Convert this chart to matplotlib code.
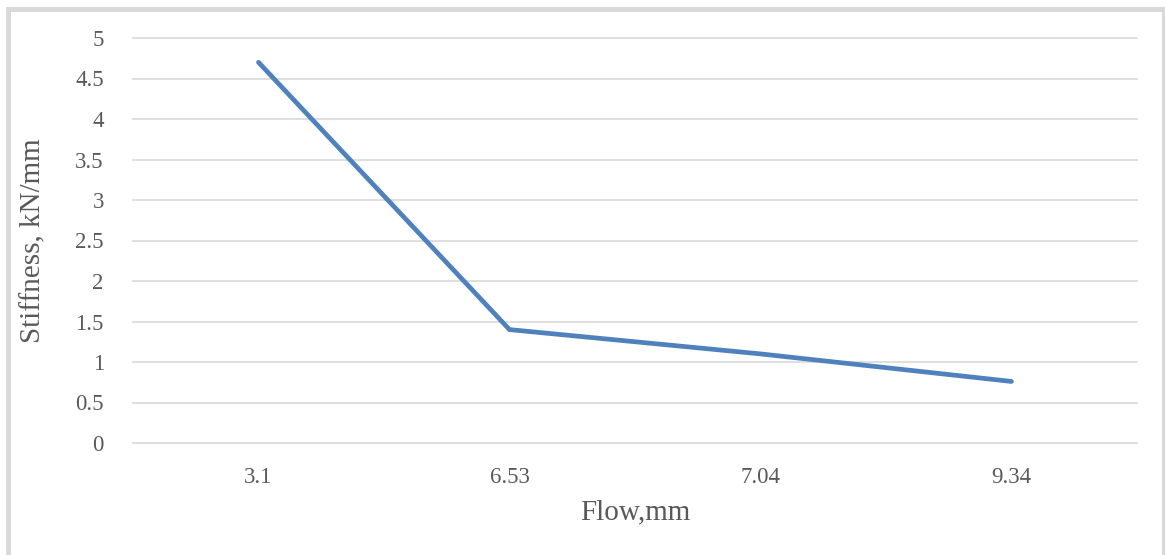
import matplotlib
matplotlib.use("Agg")
import matplotlib.pyplot as plt
from matplotlib.patches import Rectangle

flow_labels = ["3.1", "6.53", "7.04", "9.34"]
stiffness = [4.70, 1.40, 1.10, 0.76]
y_ticks = [0, 0.5, 1, 1.5, 2, 2.5, 3, 3.5, 4, 4.5, 5]
y_tick_labels = ["0", "0.5", "1", "1.5", "2", "2.5", "3", "3.5", "4", "4.5", "5"]

W, H = 1165, 555
fig = plt.figure(figsize=(W / 100, H / 100), dpi=100)
fig.patch.set_facecolor("white")

plt.rcParams["font.family"] = ["Liberation Serif", "DejaVu Serif"]
text_color = "#595959"
grid_color = "#d9d9d9"

ax = fig.add_axes([133 / W, 1 - 443 / H, (1137 - 133) / W, (443 - 38) / H])
x = list(range(len(flow_labels)))
ax.plot(x, stiffness, color="#4f81bd", linewidth=3.4, solid_capstyle="round",
        solid_joinstyle="miter", zorder=3)

ax.set_xlim(-0.5, len(flow_labels) - 0.5)
ax.set_ylim(0, 5)
ax.set_yticks(y_ticks)
ax.set_yticklabels(y_tick_labels)
ax.set_xticks(x)
ax.set_xticklabels(flow_labels)
ax.grid(axis="y", color=grid_color, linewidth=1.2)
for gl in ax.yaxis.get_gridlines():
    gl.set_clip_on(False)
ax.set_axisbelow(True)
for s in ax.spines.values():
    s.set_visible(False)
ax.tick_params(axis="both", length=0, labelsize=16.5, colors=text_color)
ax.tick_params(axis="y", pad=21)
ax.tick_params(axis="x", pad=17)

ax.set_xlabel("Flow,mm", fontsize=21, color=text_color)
ax.set_ylabel("Stiffness, kN/mm", fontsize=21, color=text_color)
ax.xaxis.set_label_coords(0.5, (443 - 512) / (443 - 38))
ax.xaxis.label.set_va("center")
ax.yaxis.set_label_coords((33 - 133) / (1137 - 133), 0.5)
ax.yaxis.label.set_va("center")

# light grey chart-area frame
fig.add_artist(Rectangle((8 / W, -0.05), (1163.5 - 8) / W, 1.05 - 8.5 / H,
                         transform=fig.transFigure, fill=False,
                         edgecolor="#d9d9d9", linewidth=3.6, clip_on=False))

fig.savefig("out.png", dpi=100)
